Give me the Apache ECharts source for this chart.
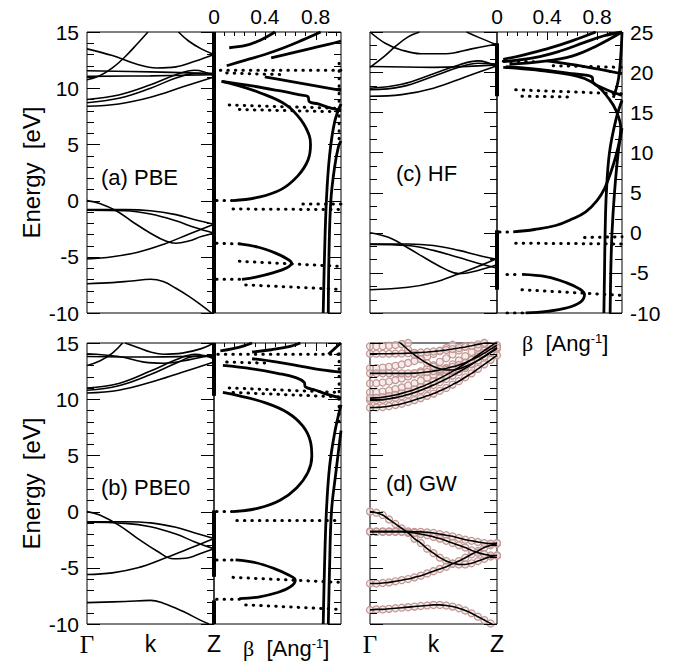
<!DOCTYPE html>
<html><head><meta charset="utf-8">
<script src="https://cdn.jsdelivr.net/npm/echarts@6/dist/echarts.min.js"></script>
<style>html,body{margin:0;padding:0;background:#fff}#c{width:681px;height:666px}</style>
</head><body><div id="c"></div><script>
// ---------------- DATA ----------------
// band structures: [k, E] with k from Γ (0) to Z (1)
const pbeBands = [
 [[0,0],[0.1,-0.25],[0.23,-0.9],[0.36,-1.9],[0.5,-2.9],[0.62,-3.6],[0.7,-3.8],[0.8,-3.6],[0.9,-3.2],[1,-2.9]],
 [[0,-5.2],[0.2,-5.0],[0.4,-4.6],[0.6,-3.9],[0.8,-3.0],[1,-2.1]],
 [[0,-0.8],[0.3,-0.8],[0.5,-0.9],[0.7,-1.25],[0.85,-1.7],[1,-2.1]],
 [[0,-0.85],[0.3,-0.9],[0.5,-1.2],[0.7,-1.8],[0.85,-2.4],[1,-2.9]],
 [[0,-7.4],[0.2,-7.3],[0.35,-7.15],[0.5,-7.0],[0.6,-7.2],[0.7,-7.8],[0.8,-8.5],[0.9,-9.3],[0.98,-10]],
 [[0,8.4],[0.25,8.6],[0.5,9.2],[0.75,10.1],[1,11.0]],
 [[0,8.7],[0.25,9.1],[0.5,10.0],[0.7,10.9],[0.85,11.3],[1,11.3]],
 [[0,9.0],[0.25,9.4],[0.5,10.3],[0.7,11.2],[0.85,11.6],[1,11.1]],
 [[0,11.55],[0.5,11.45],[1,11.3]],
 [[0,11.05],[0.5,11.1],[1,11.2]],
 [[0,13.5],[0.2,12.9],[0.4,12.1],[0.55,11.8],[0.7,11.9],[0.85,12.4],[1,13.0]],
 [[0,10.75],[0.1,11.1],[0.2,11.8],[0.3,12.8],[0.4,14.0],[0.48,15]],
 [[0.72,15],[0.8,14.2],[0.9,13.5],[1,13.0]]
];
const pbe0Bands = [
 [[0,0],[0.1,-0.3],[0.25,-1.2],[0.4,-2.4],[0.55,-3.5],[0.68,-4.2],[0.8,-4.1],[0.9,-3.7],[1,-3.3]],
 [[0,-5.6],[0.2,-5.45],[0.4,-5.0],[0.6,-4.2],[0.8,-3.3],[1,-2.4]],
 [[0,-0.9],[0.3,-0.9],[0.5,-1.0],[0.7,-1.4],[0.85,-1.9],[1,-2.4]],
 [[0,-0.95],[0.3,-1.05],[0.5,-1.35],[0.7,-2.0],[0.85,-2.7],[1,-3.3]],
 [[0,-8.1],[0.3,-8.0],[0.5,-7.9],[0.6,-8.15],[0.75,-8.85],[0.9,-9.7],[0.96,-10]],
 [[0,10.55],[0.25,10.8],[0.5,11.5],[0.75,12.4],[1,13.3]],
 [[0,10.8],[0.25,11.2],[0.5,12.2],[0.7,13.2],[0.85,13.8],[1,13.8]],
 [[0,11.0],[0.25,11.4],[0.5,12.5],[0.7,13.5],[0.85,14.0],[1,13.6]],
 [[0,13.8],[0.5,13.75],[1,13.9]],
 [[0,14.05],[0.25,13.8],[0.45,13.3],[0.6,13.2],[0.8,13.5],[1,14.0]],
 [[0,13.0],[0.1,13.4],[0.2,14.1],[0.28,15]],
 [[0.3,15],[0.4,14.6],[0.5,14.2],[0.6,14.0],[0.75,14.1],[0.9,14.5],[1,15]]
];
const hfBands = [
 [[0,0],[0.15,-0.6],[0.3,-1.9],[0.45,-3.3],[0.6,-4.6],[0.7,-5.1],[0.85,-4.7],[1,-4.0]],
 [[0,-7.1],[0.3,-6.8],[0.5,-6.2],[0.7,-5.1],[0.85,-4.2],[1,-3.2]],
 [[0,-1.4],[0.3,-1.4],[0.5,-1.6],[0.7,-2.2],[0.85,-2.8],[1,-3.3]],
 [[0,-1.45],[0.3,-1.6],[0.5,-2.2],[0.7,-3.1],[0.85,-3.8],[1,-4.4]],
 [[0,17.0],[0.25,17.2],[0.5,18.0],[0.75,19.4],[1,20.8]],
 [[0,17.8],[0.25,18.2],[0.5,19.5],[0.7,20.6],[0.85,21.1],[1,21.0]],
 [[0,18.0],[0.25,18.5],[0.5,19.8],[0.7,20.9],[0.85,21.4],[1,20.7]],
 [[0,20.7],[0.5,20.6],[1,20.9]],
 [[0,25],[0.12,23.6],[0.24,22.8],[0.4,22.3],[0.6,22.3],[0.8,22.9],[1,23.5]],
 [[0,20.6],[0.1,21.8],[0.2,23.2],[0.3,24.4],[0.39,25]],
 [[0.76,25],[0.86,24.3],[1,23.4]]
];
// complex band structures: [beta (1/Ang), E]; solid branches
const pbeLines = [
 [[0.15,0.0],[0.35,0.3],[0.53,1.0],[0.66,2.2],[0.74,3.6],[0.76,5.0],[0.75,5.8],[0.69,7.1],[0.57,8.5],[0.36,9.6],[0.17,10.3],[0.06,10.6]],
 [[0.06,10.6],[0.3,10.2],[0.5,9.8],[0.68,9.4],[0.74,9.25],[0.75,8.8],[0.82,8.6],[0.9,8.3],[1,8.0]],
 [[0.4,11.0],[0.6,10.6],[0.8,10.2],[1,9.8]],
 [[0.12,13.6],[0.25,13.8],[0.35,14.2],[0.42,14.6],[0.48,15]],
 [[0.1,12.0],[0.25,12.5],[0.4,13.0],[0.55,13.6],[0.7,14.3],[0.84,15]],
 [[0.45,12.7],[0.6,13.1],[0.75,13.5],[0.9,13.9],[1,14.2]],
 [[0.2,-3.85],[0.35,-4.15],[0.48,-4.65],[0.57,-5.15],[0.61,-5.55],[0.57,-6.0],[0.47,-6.4],[0.33,-6.8],[0.22,-7.0]],
 [[0.86,-10],[0.87,-5],[0.885,0],[0.91,4],[0.95,7],[1,8.6]],
 [[0.9,-10],[0.905,-5],[0.92,0],[0.95,3],[0.98,4.8],[1,5.3]]
];
const pbe0Lines = [
 [[0.15,0.0],[0.35,0.3],[0.52,1.0],[0.65,2.1],[0.74,3.5],[0.77,4.9],[0.76,6.2],[0.7,7.6],[0.58,8.8],[0.4,9.7],[0.2,10.3],[0.07,10.6]],
 [[0.07,13.0],[0.3,12.7],[0.5,12.3],[0.65,11.9],[0.71,11.5],[0.72,11.1],[0.8,10.8],[0.9,10.4],[1,10.1]],
 [[0.3,13.6],[0.5,13.3],[0.7,12.9],[0.85,12.6],[1,12.4]],
 [[0.05,14.3],[0.15,14.5],[0.25,14.8],[0.3,15]],
 [[0.3,14.2],[0.45,14.4],[0.6,14.7],[0.68,15]],
 [[0.9,14.0],[0.95,14.5],[1,15]],
 [[0.17,-4.3],[0.33,-4.55],[0.47,-5.05],[0.58,-5.6],[0.64,-6.1],[0.6,-6.7],[0.5,-7.2],[0.35,-7.6],[0.2,-7.75]],
 [[0.86,-10],[0.87,-5],[0.885,0],[0.91,4],[0.95,7],[1,9.5]],
 [[0.9,-10],[0.91,-5],[0.925,0],[0.96,3.5],[1,7.2]]
];
const hfLines = [
 [[0.13,0.1],[0.3,0.4],[0.47,0.9],[0.6,1.7],[0.71,2.6],[0.8,4.0],[0.86,5.5],[0.91,7.5],[0.95,9.5],[0.98,11.5],[0.99,13.0],[0.95,15.3],[0.88,17.0],[0.81,18.2],[0.7,19.2],[0.55,19.8],[0.35,20.2],[0.15,20.5],[0.05,20.6]],
 [[0.855,-10],[0.86,-5],[0.865,0],[0.875,5],[0.9,10],[0.95,14],[1,16.5]],
 [[0.905,-10],[0.91,-5],[0.92,0],[0.94,5],[0.97,10],[1,13]],
 [[0.05,21.3],[0.3,21.8],[0.5,22.6],[0.7,23.7],[0.85,24.5],[1,25]],
 [[0.1,21.0],[0.35,21.3],[0.6,22.0],[0.8,23.3],[1,25]],
 [[0.05,21.6],[0.2,22.1],[0.4,22.9],[0.6,23.9],[0.79,25]],
 [[0.93,16.8],[0.97,19],[0.99,22],[1,25]],
 [[0.07,20.7],[0.35,20.3],[0.6,19.8],[0.76,19.4],[0.77,18.7],[0.85,18.0],[1,17.1]],
 [[0.4,21.4],[0.7,20.7],[1,19.8]],
 [[0.2,-5.2],[0.4,-5.5],[0.55,-6.2],[0.66,-7.0],[0.7,-7.7],[0.67,-8.6],[0.55,-9.4],[0.4,-9.8],[0.23,-10]]
];
// dotted rows (start, end) of complex branches
const pbeDots = [
 [[0.02,0],[0.15,0]], [[0.05,11.6],[1,11.6]], [[0.1,11.35],[0.55,11.2]],
 [[0.12,8.5],[1,8.2]], [[0.2,8.1],[1,7.9]], [[0.15,-0.75],[1,-0.8]],
 [[0.7,-0.3],[1,-0.3]], [[0.02,-3.8],[0.2,-3.85]], [[0.02,-7.0],[0.22,-7.0]],
 [[0.2,-5.4],[1,-5.85]], [[0.25,-7.5],[1,-7.9]], [[0.985,5.5],[0.985,12.7]]
];
const pbe0Dots = [
 [[0.02,0],[0.15,0]], [[0.03,14.0],[1,14.0]], [[0.1,13.3],[0.45,13.2]],
 [[0.12,11.0],[1,10.6]], [[0.15,10.6],[1,10.2]], [[0.18,-0.8],[1,-0.8]],
 [[0.02,-4.3],[0.17,-4.3]], [[0.02,-7.8],[0.2,-7.8]],
 [[0.15,-5.85],[1,-6.3]], [[0.25,-8.3],[1,-8.7]], [[0.985,8],[0.985,14.5]]
];
const hfDots = [
 [[0.02,0.1],[0.13,0.1]], [[0.05,21.35],[0.3,21.3]], [[0.45,20.8],[1,20.6]],
 [[0.15,17.8],[1,17.3]], [[0.2,17.0],[0.6,16.9]], [[0.15,-1.3],[1,-1.4]],
 [[0.7,-0.6],[1,-0.5]], [[0.08,-5.2],[0.2,-5.2]], [[0.08,-10],[0.23,-10]],
 [[0.2,-7.1],[1,-7.8]]
];
// thick parts of the Z line (E ranges)
const pbeZ = [[-10,15]];
const pbe0Z = [[10.3,15],[-5.8,0.1],[-10,-7.9]];
const hfZ = [[17,23.6],[-7.1,0.3]];
// GW bands on a regular k grid
const kGrid = [0,0.05,0.1,0.15,0.2,0.25,0.3,0.35,0.4,0.45,0.5,0.55,0.6,0.65,0.7,0.75,0.8,0.85,0.9,0.95,1];
const gwLineBands = [
 [0,-0.1,-0.3,-0.7,-1.1,-1.5,-1.9,-2.4,-2.8,-3.3,-3.7,-4.1,-4.4,-4.6,-4.7,-4.7,-4.6,-4.4,-4.2,-4.0,-3.9],
 [-6.4,-6.4,-6.35,-6.3,-6.2,-6.1,-6.0,-5.85,-5.7,-5.5,-5.3,-5.1,-4.9,-4.65,-4.4,-4.1,-3.8,-3.5,-3.2,-3.0,-2.85],
 [-1.75,-1.75,-1.75,-1.75,-1.75,-1.75,-1.75,-1.8,-1.8,-1.85,-1.9,-2.0,-2.1,-2.2,-2.35,-2.5,-2.6,-2.7,-2.8,-2.85,-2.8],
 [-1.8,-1.8,-1.8,-1.8,-1.8,-1.8,-1.85,-1.9,-2.0,-2.1,-2.25,-2.4,-2.6,-2.8,-3.0,-3.2,-3.45,-3.65,-3.8,-3.9,-3.9],
 [-8.75,-8.7,-8.7,-8.65,-8.6,-8.55,-8.5,-8.45,-8.4,-8.35,-8.3,-8.3,-8.35,-8.45,-8.6,-8.8,-9.05,-9.35,-9.65,-9.95,-10.3],
 [9.25,9.27,9.3,9.38,9.48,9.6,9.75,9.92,10.1,10.3,10.5,10.75,11.0,11.3,11.6,11.95,12.3,12.7,13.1,13.5,13.9],
 [9.9,9.92,9.96,10.04,10.14,10.27,10.42,10.6,10.8,11.02,11.26,11.52,11.8,12.1,12.42,12.75,13.1,13.45,13.8,14.15,14.5],
 [10.1,10.12,10.18,10.27,10.38,10.52,10.68,10.87,11.08,11.32,11.58,11.86,12.16,12.48,12.82,13.18,13.55,13.93,14.32,14.7,15.1],
 [12.3,12.3,12.3,12.3,12.3,12.3,12.3,12.32,12.36,12.42,12.5,12.6,12.73,12.88,13.05,13.25,13.5,13.78,14.1,14.45,14.8],
 [14.05,14.05,14.05,14.05,14.06,14.07,14.09,14.12,14.16,14.2,14.25,14.31,14.38,14.46,14.55,14.65,14.76,14.88,15.0,15.12,15.25],
 [null,null,null,null,15.3,14.9,14.4,13.95,13.55,13.2,12.9,12.7,12.6,12.6,12.7,12.9,13.15,13.45,13.8,14.2,14.6]
];
const gwCircleOnly = [
 [10.6,10.62,10.68,10.78,10.9,11.05,11.22,11.42,11.65,11.9,12.17,12.46,12.77,13.1,13.45,13.82,14.2,14.6,15.0,15.4,null],
 [11.4,11.42,11.48,11.57,11.7,11.85,12.03,12.24,12.48,12.74,13.02,13.32,13.64,13.98,14.34,14.72,15.1,null,null,null,null],
 [12.75,12.77,12.81,12.88,12.97,13.09,13.23,13.4,13.59,13.8,14.03,14.28,14.55,14.85,15.15,null,null,null,null,null,null],
 [14.7,14.7,14.72,14.76,14.82,14.9,15.0,15.1,null,null,null,null,null,null,null,null,null,null,null,null,null]
];
// tick values
const majorE = [-10,-5,0,5,10,15];
const minorE = [-9,-8,-7,-6,-4,-3,-2,-1,1,2,3,4,6,7,8,9,11,12,13,14];
const majorEhf = [-10,-5,0,5,10,15,20,25];
const minorEhf = [-8.333,-6.667,-3.333,-1.667,1.667,3.333,6.667,8.333,11.667,13.333,16.667,18.333,21.667,23.333];
const majorBeta = [0.4,0.8];
const minorBeta = [0.08,0.16,0.24,0.32,0.48,0.56,0.64,0.72,0.88,0.96];

// ---------------- LAYOUT ----------------
const FONT = 'Liberation Sans, Arial, sans-serif';
const grids = [
 {left:87, top:32, width:127, height:281},   // 0 a band
 {left:214, top:32, width:127, height:281},  // 1 a complex
 {left:370, top:32, width:127, height:281},  // 2 c band
 {left:497, top:32, width:125, height:281},  // 3 c complex
 {left:87, top:343, width:127, height:281},  // 4 b band
 {left:214, top:343, width:127, height:281}, // 5 b complex
 {left:370, top:343, width:127, height:281}  // 6 d band
].map(g => Object.assign({show:true, borderColor:'#000', borderWidth:1}, g));

function xBand(gi, labels) {
  return {type:'value', gridIndex:gi, min:0, max:1, interval:0.5,
    axisLine:{show:false}, axisTick:{show:false}, splitLine:{show:false},
    axisLabel:{show:labels, margin:8, color:'#000', fontSize:23, fontFamily:FONT,
      formatter: v => v === 0 ? '{g|Γ}' : (v === 0.5 ? 'k' : (v === 1 ? 'Z' : '')),
      rich:{g:{fontFamily:'Liberation Serif, serif', fontSize:25, color:'#000'}}}};
}
function xTop(gi, labels) {
  return {type:'value', gridIndex:gi, min:0, max:1, interval:0.4, position:'top',
    axisLine:{show:false}, axisTick:{show:false}, splitLine:{show:false},
    axisLabel:{show:labels, margin:5, color:'#000', fontSize:21, fontFamily:FONT, showMaxLabel:false,
      formatter: v => String(v)}};
}
function yAx(gi, pos, hi, labels, extra) {
  const ax = {type:'value', gridIndex:gi, min:-10, max:hi, interval:5,
    axisLine:{show:false}, axisTick:{show:false}, splitLine:{show:false},
    axisLabel:{show:labels, margin:8, color:'#000', fontSize:21, fontFamily:FONT}};
  if (pos === 'right') ax.position = 'right';
  return Object.assign(ax, extra||{});
}
const energyName = () => ({name:'Energy  [eV]', nameLocation:'middle', nameGap:44,
  nameTextStyle:{fontSize:24, color:'#000', fontFamily:FONT}});

const xAxis = [
 xBand(0,false), xTop(1,true), xBand(2,false), xTop(3,true),
 xBand(4,true), xTop(5,false), xBand(6,true)
];
const yAxis = [
 yAx(0,'left',15,true,energyName()),
 yAx(1,'right',15,false),
 yAx(2,'left',25,false),
 yAx(3,'right',25,true),
 yAx(4,'left',15,true,energyName()),
 yAx(5,'right',15,false),
 yAx(6,'left',15,false)
];

// ---------------- SERIES ----------------
const series = [];
const base = {type:'line', symbol:'none', showSymbol:false, silent:true, animation:false, z:3};
function addLines(list, xi, yi, width, smooth) {
  list.forEach(d => series.push(Object.assign({}, base, {xAxisIndex:xi, yAxisIndex:yi, data:d,
    smooth:smooth, clip:true, lineStyle:{color:'#000', width:width}})));
}
function addDots(list, xi, yi) {
  list.forEach(d => series.push(Object.assign({}, base, {xAxisIndex:xi, yAxisIndex:yi, data:d,
    clip:true, lineStyle:{color:'#000', width:3, type:[0.5,7], cap:'round'}})));
}
function addZ(list, xi, yi) {
  list.forEach(r => series.push(Object.assign({}, base, {xAxisIndex:xi, yAxisIndex:yi,
    data:[[0,r[0]],[0,r[1]]], clip:false, lineStyle:{color:'#000', width:4}})));
}
addLines(pbeBands, 0, 0, 1.6, 0.4);
addDots(pbeDots, 1, 1);
addLines(pbeLines, 1, 1, 2.8, 0.4);
addZ(pbeZ, 1, 1);
addLines(hfBands, 2, 2, 1.6, 0.4);
addDots(hfDots, 3, 3);
addLines(hfLines, 3, 3, 2.8, 0.4);
addZ(hfZ, 3, 3);
addLines(pbe0Bands, 4, 4, 1.6, 0.4);
addDots(pbe0Dots, 5, 5);
addLines(pbe0Lines, 5, 5, 2.8, 0.4);
addZ(pbe0Z, 5, 5);
const toPairs = vals => kGrid.map((k,i) => [k, vals[i]]);
gwCircleOnly.concat(gwLineBands).forEach(v => series.push(Object.assign({}, base, {
  z:2, xAxisIndex:6, yAxisIndex:6, data:toPairs(v), clip:true, symbol:'circle', showSymbol:true, symbolSize:7,
  itemStyle:{color:'rgba(240,224,222,0.6)', borderColor:'#c29692', borderWidth:1.2},
  lineStyle:{width:0, opacity:0}})));
gwLineBands.forEach(v => series.push(Object.assign({}, base, {
  z:4, xAxisIndex:6, yAxisIndex:6, data:toPairs(v), clip:true, smooth:0.3,
  lineStyle:{color:'#000', width:1.6}})));

const txt = (x, y, text, size) => ({type:'text', x:x, y:y, silent:true,
  style:{text:text, fill:'#000', font:size+'px '+FONT, textVerticalAlign:'middle'}});
const betaLabel = (x, y) => ({type:'text', x:x, y:y, silent:true,
  style:{text:'{b|β}  [Ang{s|-1}]', fill:'#000', font:'22px '+FONT, textVerticalAlign:'middle',
    rich:{b:{fontFamily:'Liberation Serif, serif', fontSize:22, fill:'#000'},
          s:{fontSize:13, verticalAlign:'top', fill:'#000'}}}});
const labels = [
  txt(101,177,'(a) PBE',22), txt(396,173,'(c) HF',22),
  txt(101,487,'(b) PBE0',22), txt(386,483,'(d) GW',22),
  betaLabel(522,343), betaLabel(243,648)
];

const chart = echarts.init(document.getElementById('c'), null, {renderer:'svg'});
chart.setOption({animation:false, grid:grids, xAxis:xAxis, yAxis:yAxis, series:series});

// tick marks: positions come from the axes' own scales via convertToPixel
const ticks = [];
function tickAt(gi, x, y, dx, dy) {
  const p = chart.convertToPixel({gridIndex:gi}, [x, y]);
  if (!p) return;
  const px = Math.round(p[0]) + (dy ? 0.5 : 0), py = Math.round(p[1]) + (dx ? 0.5 : 0);
  ticks.push({type:'line', silent:true, z:50,
    shape:{x1:px, y1:py, x2:px + dx, y2:py + dy}, style:{stroke:'#000', lineWidth:1}});
}
function sideTicks(gi, xEdge, dir, majors, minors) {
  majors.forEach(v => tickAt(gi, xEdge, v, dir*13, 0));
  minors.forEach(v => tickAt(gi, xEdge, v, dir*7, 0));
}
function topTicks(gi, yTop) {
  majorBeta.forEach(b => tickAt(gi, b, yTop, 0, 8));
  minorBeta.forEach(b => tickAt(gi, b, yTop, 0, 4));
}
sideTicks(0, 0, 1, majorE, minorE);  sideTicks(0, 1, -1, majorE, minorE);  sideTicks(1, 1, -1, majorE, minorE);
sideTicks(2, 0, 1, majorEhf, minorEhf); sideTicks(2, 1, -1, majorEhf, minorEhf); sideTicks(3, 1, -1, majorEhf, minorEhf);
sideTicks(4, 0, 1, majorE, minorE);  sideTicks(4, 1, -1, majorE, minorE);  sideTicks(5, 1, -1, majorE, minorE);
sideTicks(6, 0, 1, majorE, minorE);  sideTicks(6, 1, -1, majorE, minorE);
topTicks(1, 15); topTicks(3, 25); topTicks(5, 15);

chart.setOption({graphic: labels.concat(ticks)});
</script></body></html>
